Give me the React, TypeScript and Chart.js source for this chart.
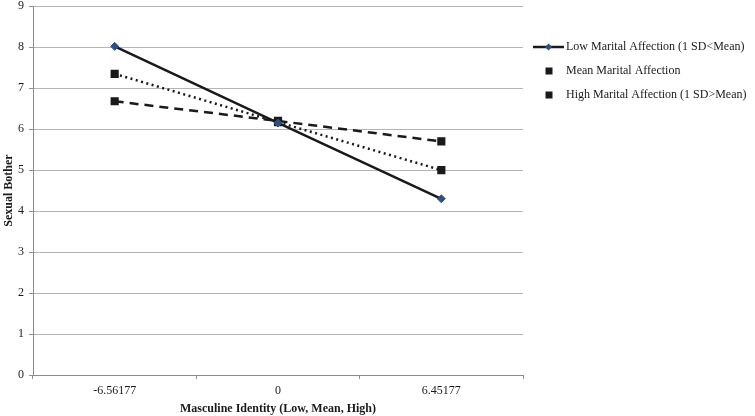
import React, { useEffect, useRef } from "react";
import { Chart, registerables } from "chart.js";

Chart.register(...registerables);

const categories = ["-6.56177", "0", "6.45177"];
const lowAffection = [8.02, 6.15, 4.3];
const meanAffection = [7.35, 6.17, 5.0];
const highAffection = [6.68, 6.2, 5.7];
const seriesNames = [
  "Low Marital Affection (1 SD<Mean)",
  "Mean Marital Affection",
  "High Marital Affection (1 SD>Mean)",
];

const FONT = "'Liberation Serif', 'Times New Roman', serif";
const SHIFT = 6;

const legendPlugin = {
  id: "customLegend",
  afterDraw(chart: any) {
    const ctx = chart.ctx;
    ctx.save();
    const x0 = 533;
    const rows = [47 + SHIFT, 71 + SHIFT, 95 + SHIFT];
    ctx.font = `12px ${FONT}`;
    ctx.textBaseline = "middle";
    rows.forEach((y, i) => {
      if (i === 0) {
        ctx.strokeStyle = "#1a1a1a";
        ctx.lineWidth = 2.5;
        ctx.beginPath();
        ctx.moveTo(x0, y);
        ctx.lineTo(x0 + 31, y);
        ctx.stroke();
        ctx.fillStyle = "#2e4f86";
        ctx.beginPath();
        ctx.moveTo(x0 + 15.5, y - 3.5);
        ctx.lineTo(x0 + 19, y);
        ctx.lineTo(x0 + 15.5, y + 3.5);
        ctx.lineTo(x0 + 12, y);
        ctx.closePath();
        ctx.fill();
      } else {
        ctx.fillStyle = "#1a1a1a";
        ctx.fillRect(x0 + 12.5, y - 3.5, 7, 7);
      }
      ctx.fillStyle = "#1a1a1a";
      ctx.fillText(seriesNames[i], 566, y);
    });
    ctx.restore();
  },
};

export default function App() {
  const ref = useRef<HTMLCanvasElement>(null);
  useEffect(() => {
    const chart = new Chart(ref.current as HTMLCanvasElement, {
      type: "line",
      data: {
        labels: categories,
        datasets: [
          {
            label: seriesNames[0],
            data: lowAffection,
            borderColor: "#1a1a1a",
            borderWidth: 2.5,
            pointStyle: "rectRot",
            pointRadius: 4,
            pointBackgroundColor: "#2e4f86",
            pointBorderColor: "#2e4f86",
            pointBorderWidth: 1,
            fill: false,
            tension: 0,
          },
          {
            label: seriesNames[1],
            data: meanAffection,
            borderColor: "#1a1a1a",
            borderWidth: 2.5,
            borderDash: [2, 3.5],
            pointStyle: "rect",
            pointRadius: 4,
            pointBackgroundColor: "#1a1a1a",
            pointBorderColor: "#1a1a1a",
            fill: false,
            tension: 0,
          },
          {
            label: seriesNames[2],
            data: highAffection,
            borderColor: "#1a1a1a",
            borderWidth: 2.5,
            borderDash: [9, 6],
            pointStyle: "rect",
            pointRadius: 4,
            pointBackgroundColor: "#1a1a1a",
            pointBorderColor: "#1a1a1a",
            fill: false,
            tension: 0,
          },
        ],
      },
      options: {
        responsive: false,
        animation: false,
        layout: { padding: { top: 0, right: 232, left: 0, bottom: 0 } },
        plugins: {
          legend: { display: false },
          tooltip: { enabled: false },
        },
        scales: {
          x: {
            type: "category",
            offset: true,
            grid: {
              offset: true,
              drawOnChartArea: false,
              drawTicks: true,
              tickLength: 4,
              color: "#8c8c8c",
            },
            border: { color: "#8c8c8c", width: 1 },
            ticks: {
              color: "#1a1a1a",
              font: { family: FONT, size: 12 },
              padding: 5,
              maxRotation: 0,
            },
            title: {
              display: true,
              text: "Masculine Identity (Low, Mean, High)",
              color: "#1a1a1a",
              font: { family: FONT, size: 12, weight: "bold" },
              padding: { top: 1, bottom: 0 },
            },
            afterFit(scale: any) {
              scale.height = 41;
            },
          },
          y: {
            min: 0,
            max: 9,
            ticks: {
              stepSize: 1,
              color: "#1a1a1a",
              font: { family: FONT, size: 12 },
              padding: 5,
            },
            grid: {
              color: "#b5b5b5",
              tickLength: 4,
              tickColor: "#8c8c8c",
            },
            border: { color: "#8c8c8c", width: 1 },
            title: {
              display: true,
              text: "Sexual Bother",
              color: "#1a1a1a",
              font: { family: FONT, size: 12, weight: "bold" },
              padding: { top: 2, bottom: 0 },
            },
            afterFit(scale: any) {
              scale.width = 33;
            },
          },
        },
      },
      plugins: [legendPlugin],
    });
    return () => chart.destroy();
  }, []);
  return (
    <div style={{ position: "absolute", left: 0, top: 0, width: 755, height: 416, background: "#fff", overflow: "hidden" }}>
      <canvas ref={ref} width={755} height={416 + SHIFT} style={{ position: "absolute", left: 0, top: -SHIFT }} />
    </div>
  );
}
